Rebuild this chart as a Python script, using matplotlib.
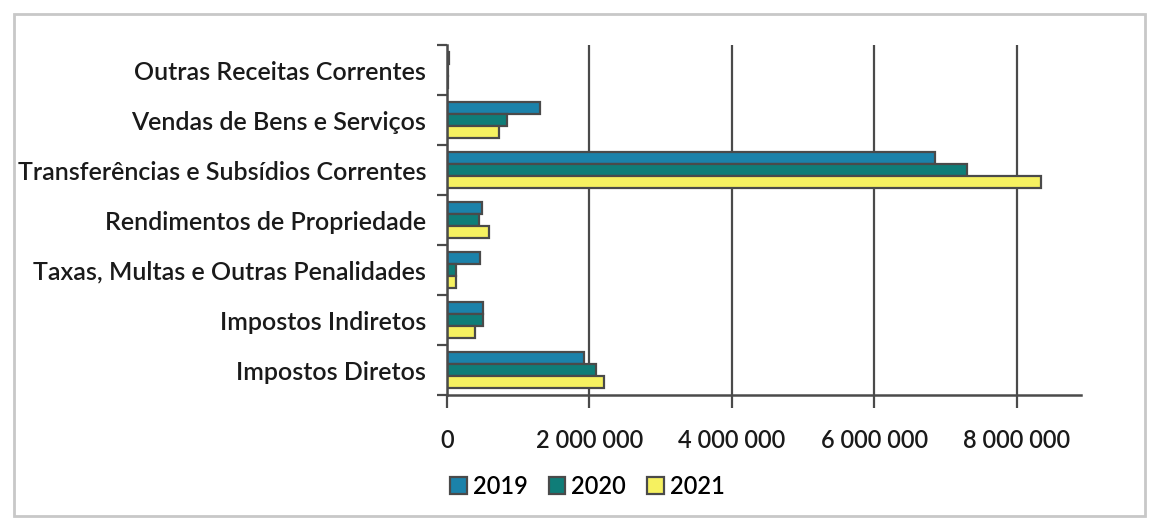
import numpy as np
import matplotlib.pyplot as plt
from matplotlib.ticker import FuncFormatter, FixedLocator
from matplotlib.patches import Rectangle

categorias = ['Impostos Diretos', 'Impostos Indiretos', 'Taxas, Multas e Outras Penalidades',
              'Rendimentos de Propriedade', 'Transferências e Subsídios Correntes',
              'Vendas de Bens e Serviços', 'Outras Receitas Correntes']
anos = ['2019', '2020', '2021']
v2019 = [1930000, 510000, 460000, 490000, 6850000, 1300000, 30000]
v2020 = [2100000, 500000, 130000, 450000, 7310000, 850000, 20000]
v2021 = [2200000, 390000, 120000, 590000, 8350000, 730000, 15000]
cores = ['#1b82aa', '#0f7d78', '#f6f160']

plt.rcParams['font.family'] = ['Lato', 'DejaVu Sans']
plt.rcParams['font.weight'] = 'semibold'

fig = plt.figure(figsize=(11.52, 5.2), dpi=100)
ax = fig.add_axes([0.388, 0.24, 0.55, 0.673])

y = np.arange(len(categorias))
h = 0.24
series = [v2019, v2020, v2021]
for i in range(3):
    # 2019 on top, 2021 at the bottom of each group
    ax.barh(y + (1 - i) * h, series[i], height=h, color=cores[i],
            edgecolor='#4a4a4a', linewidth=1.6, label=anos[i])

ax.set_xlim(0, 8900000)
ax.set_ylim(-0.5, len(categorias) - 0.5)
ax.set_xticks([0, 2000000, 4000000, 6000000, 8000000])
ax.xaxis.set_major_formatter(FuncFormatter(lambda v, p: f'{v:,.0f}'.replace(',', ' ')))
ax.set_yticks(y)
ax.set_yticklabels(categorias)
ax.yaxis.set_minor_locator(FixedLocator(np.arange(-0.5, len(categorias), 1)))
ax.tick_params(axis='y', which='major', length=0, pad=15, labelsize=18, labelcolor='#1a1a1a')
ax.tick_params(axis='y', which='minor', length=7, width=1.6, color='#4a4a4a')
ax.tick_params(axis='x', length=9, width=1.6, color='#4a4a4a', pad=15,
               labelsize=17, labelcolor='#1a1a1a')

ax.grid(axis='x', color='#4a4a4a', linewidth=1.6)
ax.set_axisbelow(True)
for s in ['top', 'right']:
    ax.spines[s].set_visible(False)
for s in ['left', 'bottom']:
    ax.spines[s].set_color('#4a4a4a')
    ax.spines[s].set_linewidth(1.8)

fig.legend(loc='center', bbox_to_anchor=(0.51, 0.065), ncol=3, frameon=False,
           fontsize=17, handlelength=0.7, handleheight=0.7, handletextpad=0.25,
           columnspacing=0.9)

# thin grey frame round the chart area
fig.patches.append(Rectangle((0.012, 0.008), 0.982, 0.965, transform=fig.transFigure,
                             fill=False, edgecolor='#c8c8c8', linewidth=2))

fig.savefig('out.png', dpi=100)
